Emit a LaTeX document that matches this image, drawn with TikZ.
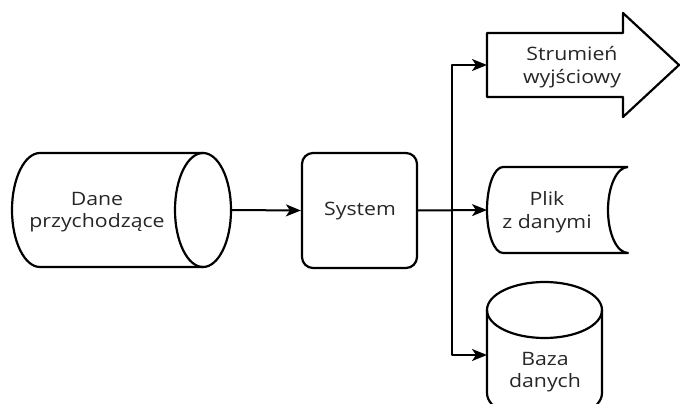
\documentclass[tikz,border=0pt]{standalone}
\usepackage{fontspec}
\setmainfont{Open Sans}[FakeStretch=1.15]
\usetikzlibrary{arrows.meta}
\begin{document}
\begin{tikzpicture}[x=1pt,y=-1pt,
  line width=2.2pt, line join=round,
  lbl/.style={align=center, font=\fontsize{18.5}{22.5}\selectfont, inner sep=0pt, text=black!85},
  conn/.style={-{Stealth[length=15pt,width=12pt,inset=4pt]}, line width=2pt}]
\useasboundingbox (0,0) rectangle (681,404);
\clip (0,0) rectangle (681,404);
% input cylinder
\draw (203,153) -- (40,153) arc[start angle=270,end angle=90,x radius=28,y radius=57] -- (203,267);
\draw (203,210) ellipse [x radius=28,y radius=57];
\coordinate (daneE) at (231,210);
\node[lbl] (dane) at (97,212) {Dane\\przychodzące};
% system
\node[draw, rounded corners=11pt, minimum width=115pt, minimum height=115pt, inner sep=0pt] (sys) at (359.5,210.5) {};
\node[lbl] (syst) at (360,211) {System};
% output arrow
\draw (487,33) -- (623,33) -- (623,13) -- (679,65) -- (623,117) -- (623,97) -- (487,97) -- cycle;
\coordinate (strW) at (487,65);
\node[lbl] (str) at (572,67) {Strumień\\wyjściowy};
% file
\draw (628,167) -- (503,167) arc[start angle=270,end angle=90,x radius=16,y radius=43] -- (628,253) arc[start angle=90,end angle=270,x radius=20,y radius=43];
\coordinate (plikW) at (487,210);
\node[lbl] (plik) at (547,212) {Plik\\z danymi};
% database
\draw (544.5,310) ellipse [x radius=57.5,y radius=28];
\draw (487,310) -- (487,393) arc[start angle=180,end angle=0,x radius=57.5,y radius=28] -- (602,310);
\coordinate (bazaW) at (487,355);
\node[lbl] (baza) at (545,372) {Baza\\danych};
% connectors
\coordinate (j) at (452,210);
\draw[conn] (daneE) -- (sys.west);
\draw[conn] (sys.east) -- (plikW);
\draw[conn] (j) |- (strW);
\draw[conn] (j) |- (bazaW);
\end{tikzpicture}
\end{document}
